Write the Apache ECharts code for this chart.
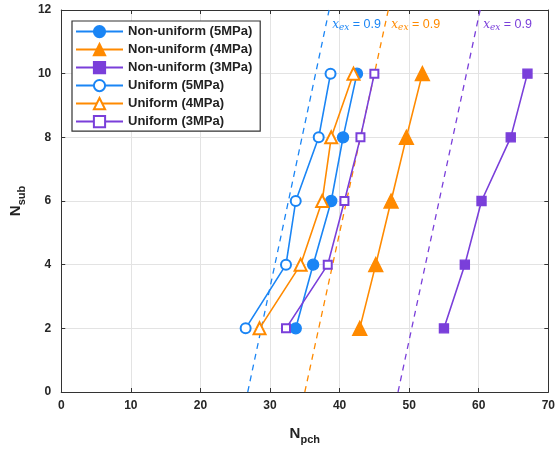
<!DOCTYPE html>
<html>
<head>
<meta charset="utf-8">
<script src="https://cdn.jsdelivr.net/npm/echarts@6/dist/echarts.min.js"></script>
<style>
  html, body { margin: 0; padding: 0; background: #fff; }
  #chart { width: 558px; height: 450px; }
</style>
</head>
<body>
<div id="chart"></div>
<script>
// N_sub levels shared by every curve
const nSub = [2, 4, 6, 8, 10];

// N_pch
const nonUniform5 = [33.7, 36.2, 38.8, 40.5, 42.5];
const nonUniform4 = [42.9, 45.2, 47.4, 49.6, 51.9];
const nonUniform3 = [55.0, 58.0, 60.4, 64.6, 67.0];
const uniform5 = [26.5, 32.3, 33.7, 37.0, 38.7];
const uniform4 = [28.5, 34.4, 37.5, 38.8, 42.0];
const uniform3 = [32.3, 38.3, 40.7, 43.0, 45.0];

// x_ex = 0.9 guide lines (end points)
const xexSub = [0, 12];
const xex5 = [26.8, 38.5];
const xex4 = [35.0, 47.0];
const xex3 = [48.4, 60.2];

const xTicks = [0, 10, 20, 30, 40, 50, 60, 70];
const yTicks = [0, 2, 4, 6, 8, 10, 12];

const BLUE = '#1a85f5';
const ORANGE = '#ff8a00';
const PURPLE = '#7a3fda';

const font = 'Liberation Sans, Arial, sans-serif';

const pairs = (xs, ys) => xs.map((x, i) => [x, ys[i]]);

const curve = (name, xs, color, symbol, size) => ({
  name,
  type: 'line',
  xAxisIndex: 0,
  yAxisIndex: 0,
  data: pairs(xs, nSub),
  symbol,
  symbolSize: size,
  showAllSymbol: true,
  lineStyle: { color, width: 1.6 },
  itemStyle: { color, borderColor: color, borderWidth: 1.4 },
  z: 5
});

const guide = (xs, color) => ({
  type: 'line',
  xAxisIndex: 0,
  yAxisIndex: 0,
  data: pairs(xs, xexSub),
  symbol: 'none',
  lineStyle: { color, width: 1.3, type: [6, 5] },
  endLabel: {
    show: true,
    distance: 0,
    offset: [3, 15],
    formatter: '{x|x}{s|ex}{t| = 0.9}',
    rich: {
      x: { fontFamily: 'DejaVu Serif, serif', fontStyle: 'italic', fontSize: 12, color },
      s: { fontFamily: 'DejaVu Serif, serif', fontStyle: 'italic', fontSize: 9, color, verticalAlign: 'bottom', padding: [6, 0, 0, 0] },
      t: { fontFamily: font, fontSize: 12.5, color }
    }
  },
  silent: true,
  z: 3
});

const axisCommon = {
  type: 'value',
  axisLine: { show: true, onZero: false, lineStyle: { color: '#333', width: 1 } },
  axisTick: { show: true, inside: true, length: 4, lineStyle: { color: '#333' } },
};

const chart = echarts.init(document.getElementById('chart'));

chart.setOption({
  animation: false,
  backgroundColor: '#fff',
  grid: { left: 57.5, right: 6, top: 10, bottom: 57 },
  legend: {
    data: ['Non-uniform (5MPa)', 'Non-uniform (4MPa)', 'Non-uniform (3MPa)',
           'Uniform (5MPa)', 'Uniform (4MPa)', 'Uniform (3MPa)'],
    orient: 'vertical',
    left: 72,
    top: 21,
    itemWidth: 47,
    itemHeight: 14,
    itemGap: 4.8,
    padding: [4, 8, 3, 3],
    backgroundColor: '#fff',
    borderColor: '#333',
    borderWidth: 1.2,
    textStyle: { fontFamily: font, fontWeight: 'bold', fontSize: 13, color: '#222' }
  },
  xAxis: [
    Object.assign({}, axisCommon, {
      min: 0, max: 70, interval: 10,
      name: '{n|N}{s|pch}',
      nameLocation: 'middle',
      nameGap: 30,
      nameTextStyle: {
        rich: {
          n: { fontFamily: font, fontWeight: 'bold', fontSize: 15, color: '#222' },
          s: { fontFamily: font, fontWeight: 'bold', fontSize: 11, color: '#222', verticalAlign: 'bottom', padding: [12, 0, 0, 0] }
        }
      },
      axisLabel: {
        fontFamily: font, fontWeight: 'bold', fontSize: 12, color: '#262626', margin: 8,
        customValues: xTicks
      },
      splitLine: { show: true, lineStyle: { color: '#e3e3e3' } }
    }),
    Object.assign({}, axisCommon, {
      min: 0, max: 70, interval: 10, position: 'top',
      axisLabel: { show: false },
      splitLine: { show: false }
    })
  ],
  yAxis: [
    Object.assign({}, axisCommon, {
      min: 0, max: 12, interval: 2,
      name: '{n|N}{s|sub}',
      nameLocation: 'middle',
      nameGap: 28,
      nameRotate: 90,
      nameTextStyle: {
        rich: {
          n: { fontFamily: font, fontWeight: 'bold', fontSize: 15, color: '#222' },
          s: { fontFamily: font, fontWeight: 'bold', fontSize: 11, color: '#222', verticalAlign: 'bottom', padding: [12, 0, 0, 0] }
        }
      },
      axisLabel: {
        fontFamily: font, fontWeight: 'bold', fontSize: 12, color: '#262626', margin: 10,
        customValues: yTicks
      },
      splitLine: { show: true, lineStyle: { color: '#e3e3e3' } }
    }),
    Object.assign({}, axisCommon, {
      min: 0, max: 12, interval: 2, position: 'right',
      axisLabel: { show: false },
      splitLine: { show: false }
    })
  ],
  series: [
    curve('Non-uniform (5MPa)', nonUniform5, BLUE, 'circle', 11),
    curve('Non-uniform (4MPa)', nonUniform4, ORANGE, 'triangle', 14),
    curve('Non-uniform (3MPa)', nonUniform3, PURPLE, 'rect', 9),
    curve('Uniform (5MPa)', uniform5, BLUE, 'emptyCircle', 10),
    curve('Uniform (4MPa)', uniform4, ORANGE, 'emptyTriangle', 12),
    curve('Uniform (3MPa)', uniform3, PURPLE, 'emptyRect', 8),
    guide(xex5, BLUE),
    guide(xex4, ORANGE),
    guide(xex3, PURPLE)
  ]
});
</script>
</body>
</html>
